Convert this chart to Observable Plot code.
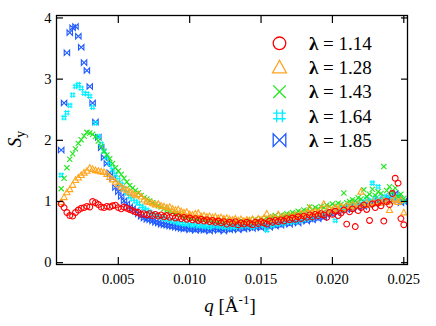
<!DOCTYPE html>
<html><head><meta charset="utf-8">
<script src="https://cdn.jsdelivr.net/npm/d3@7"></script>
<script src="https://cdn.jsdelivr.net/npm/@observablehq/plot@0.6"></script>
<style>html,body{margin:0;padding:0;background:#fff;} #chart{width:436px;height:326px;}</style>
</head><body><div id="chart"></div>
<script>
const q = [
0.0010,0.0012,0.0014,0.0016,0.0018,0.0020,0.0022,0.0024,0.0026,0.0028,
0.0030,0.0032,0.0034,0.0036,0.0038,0.0040,0.0042,0.0044,0.0046,0.0048,
0.0050,0.0052,0.0054,0.0056,0.0058,0.0060,0.0062,0.0064,0.0066,0.0068,
0.0070,0.0072,0.0074,0.0076,0.0078,0.0080,0.0082,0.0084,0.0086,0.0088,
0.0090,0.0092,0.0094,0.0096,0.0098,0.0100,0.0102,0.0104,0.0106,0.0108,
0.0110,0.0112,0.0114,0.0116,0.0118,0.0120,0.0122,0.0124,0.0126,0.0128,
0.0130,0.0132,0.0134,0.0136,0.0138,0.0140,0.0142,0.0144,0.0146,0.0148,
0.0150,0.0152,0.0154,0.0156,0.0158,0.0160,0.0162,0.0164,0.0166,0.0168,
0.0170,0.0172,0.0174,0.0176,0.0178,0.0180,0.0182,0.0184,0.0186,0.0188,
0.0190,0.0192,0.0194,0.0196,0.0198,0.0200,0.0202,0.0204,0.0206,0.0208,
0.0210,0.0212,0.0214,0.0216,0.0218,0.0220,0.0222,0.0224,0.0226,0.0228,
0.0230,0.0232,0.0234,0.0236,0.0238,0.0240,0.0242,0.0244,0.0246,0.0248,
0.0250];

const s114 = [
0.96,0.90,0.82,0.77,0.76,0.82,0.86,0.89,0.90,0.92,
0.91,1.00,0.98,0.95,0.91,0.90,0.92,0.91,0.93,0.94,
0.90,0.88,0.91,0.89,0.87,0.85,0.83,0.82,0.79,0.80,
0.78,0.80,0.77,0.79,0.76,0.78,0.75,0.77,0.74,0.76,
0.73,0.75,0.72,0.74,0.71,0.73,0.70,0.72,0.69,0.71,
0.68,0.70,0.67,0.69,0.66,0.68,0.65,0.67,0.63,0.66,
0.64,0.67,0.62,0.65,0.63,0.66,0.64,0.62,0.66,0.64,
0.67,0.65,0.63,0.68,0.66,0.69,0.67,0.70,0.68,0.72,
0.70,0.73,0.71,0.75,0.72,0.76,0.74,0.78,0.75,0.79,
0.77,0.80,0.78,0.74,0.82,0.79,0.84,0.77,0.81,0.86,
0.63,0.83,0.88,0.59,0.85,0.90,0.94,0.87,0.69,0.96,
0.90,0.98,0.93,0.68,1.00,0.95,1.13,1.38,1.30,0.72,
0.62];

const s128 = [
0.99,1.07,1.15,1.20,1.27,1.35,1.39,1.43,1.47,1.50,
1.55,1.53,1.51,1.50,1.49,1.48,1.45,1.40,1.36,1.32,
1.28,1.24,1.21,1.19,1.16,1.13,1.10,1.12,1.08,1.03,
1.00,0.99,0.97,0.95,0.96,0.93,0.92,0.90,0.91,0.88,
0.86,0.87,0.84,0.82,0.83,0.79,0.78,0.80,0.81,0.76,
0.77,0.75,0.76,0.74,0.75,0.73,0.74,0.72,0.73,0.71,
0.70,0.72,0.69,0.71,0.68,0.70,0.69,0.71,0.68,0.72,
0.70,0.73,0.80,0.71,0.74,0.72,0.79,0.73,0.76,0.74,
0.77,0.75,0.78,0.76,0.80,0.78,0.82,0.89,0.81,0.84,
0.82,0.86,0.96,0.85,0.88,0.86,0.90,0.88,0.92,0.89,
0.93,0.91,0.95,0.92,0.96,1.16,0.94,0.98,0.95,0.99,
0.97,1.00,0.98,1.02,0.99,0.86,1.01,1.04,0.99,1.02,
0.82];

const s143 = [
1.21,1.38,1.55,1.69,1.78,1.86,1.95,2.01,2.07,2.13,
2.12,2.10,2.06,1.99,1.90,1.82,1.76,1.70,1.62,1.55,
1.50,1.44,1.38,1.32,1.26,1.22,1.18,1.14,1.10,1.06,
1.04,1.01,0.98,0.95,0.93,0.91,0.88,0.86,0.84,0.82,
0.81,0.79,0.78,0.76,0.75,0.74,0.73,0.72,0.73,0.71,
0.72,0.70,0.71,0.69,0.70,0.68,0.70,0.67,0.69,0.68,
0.66,0.68,0.67,0.69,0.66,0.68,0.70,0.67,0.71,0.69,
0.72,0.70,0.73,0.71,0.75,0.77,0.74,0.78,0.76,0.80,
0.78,0.82,0.80,0.84,0.82,0.86,0.84,0.91,0.87,0.90,
0.88,0.92,0.90,0.94,0.92,0.96,0.93,0.97,0.95,1.14,
0.98,1.00,1.03,1.01,1.06,1.04,1.19,1.08,1.12,1.20,
1.10,1.16,1.13,1.57,1.18,1.24,1.15,1.22,1.08,1.12,
1.05];

const s164 = [
1.43,2.37,2.45,2.57,2.74,2.88,2.91,2.85,2.77,2.76,
2.72,2.54,2.28,2.06,1.94,1.82,1.72,1.61,1.52,1.44,
1.35,1.28,1.21,1.14,1.08,1.04,1.00,0.97,0.92,0.89,
0.86,0.83,0.80,0.78,0.76,0.74,0.72,0.71,0.69,0.68,
0.67,0.65,0.64,0.63,0.64,0.62,0.61,0.63,0.60,0.61,
0.59,0.61,0.58,0.60,0.62,0.59,0.61,0.58,0.60,0.57,
0.60,0.58,0.61,0.59,0.62,0.60,0.63,0.58,0.61,0.64,
0.62,0.60,0.53,0.63,0.61,0.65,0.63,0.67,0.64,0.68,
0.66,0.70,0.67,0.72,0.69,0.73,0.71,0.75,0.73,0.78,
0.76,0.80,0.78,0.83,0.81,0.85,0.69,0.87,0.90,0.88,
0.92,0.90,0.95,0.93,0.97,1.00,0.96,1.04,1.01,1.30,
1.06,1.24,1.03,1.08,1.05,1.11,1.07,1.02,1.09,1.04,
1.00];

const s185 = [
1.84,2.61,3.43,3.76,3.84,3.86,3.70,3.52,3.27,3.14,
2.88,2.61,2.30,2.05,1.88,1.72,1.62,1.47,1.38,1.23,
1.16,1.08,1.01,0.96,0.91,0.88,0.84,0.80,0.76,0.73,
0.71,0.70,0.68,0.66,0.65,0.63,0.62,0.61,0.60,0.59,
0.58,0.57,0.56,0.55,0.57,0.54,0.55,0.53,0.56,0.54,
0.53,0.55,0.52,0.54,0.56,0.53,0.55,0.52,0.56,0.54,
0.55,0.57,0.54,0.58,0.55,0.57,0.59,0.56,0.58,0.60,
0.57,0.59,0.61,0.58,0.62,0.60,0.63,0.61,0.64,0.66,
0.63,0.66,0.68,0.65,0.69,0.71,0.68,0.72,0.70,0.74,
0.72,0.76,0.74,0.78,0.81,0.79,0.84,0.82,0.86,0.89,
0.87,0.91,0.88,0.93,0.90,0.95,0.92,0.97,0.94,0.99,
0.96,1.01,0.98,1.03,1.00,1.06,1.02,1.13,1.08,0.98,
1.00];

const seriesLabels = ["1.14", "1.28", "1.43", "1.64", "1.85"];
const seriesValues = [s114, s128, s143, s164, s185];
const seriesColors = ["#ff0000", "#ffa51e", "#22e61e", "#00f0ff", "#1e5aff"];
const xTicks = [0.005, 0.010, 0.015, 0.020, 0.025];
const yTicks = [0, 1, 2, 3, 4];

function sym(f) { return {draw(ctx, size) { f(ctx, Math.sqrt(size / Math.PI)); }}; }
const symCircle = sym((c, r) => { c.moveTo(r, 0); c.arc(0, 0, r, 0, 2 * Math.PI); });
const symTri = sym((c, r) => { c.moveTo(0, -r * 1.15); c.lineTo(r * 1.1, r * 0.85); c.lineTo(-r * 1.1, r * 0.85); c.closePath(); });
const symX = sym((c, r) => { c.moveTo(-r, -r); c.lineTo(r, r); c.moveTo(-r, r); c.lineTo(r, -r); });
const symHash = sym((c, r) => { const b = r * 0.45;
  c.moveTo(-b, -r); c.lineTo(-b, r); c.moveTo(b, -r); c.lineTo(b, r);
  c.moveTo(-r, -b); c.lineTo(r, -b); c.moveTo(-r, b); c.lineTo(r, b); });
const symBow = sym((c, r) => { c.moveTo(-r, -r); c.lineTo(-r, r); c.lineTo(r, -r); c.lineTo(r, r); c.closePath(); });
const symbols = [symCircle, symTri, symX, symHash, symBow];
const dotR = [2.9, 2.8, 2.6, 2.8, 2.7];

const tables = seriesValues.map((vals) => q.map((qq, i) => ({q: qq, s: vals[i]})));

const dotMarks = [4, 3, 2, 1, 0].map((k) =>
  Plot.dot(tables[k], {x: "q", y: "s", r: dotR[k], symbol: symbols[k], stroke: seriesColors[k], fill: "none", strokeWidth: 1.1})
);

const FONT = "Liberation Serif";

const svgNode = Plot.plot({
  width: 436, height: 326,
  marginLeft: 56, marginRight: 29, marginTop: 15, marginBottom: 62,
  style: {fontFamily: FONT, fontSize: "14.5px", background: "white", color: "black"},
  x: {domain: [0.00067, 0.02526], label: null},
  y: {domain: [-0.03, 4.04], label: null},
  marks: [
    ...dotMarks,
    Plot.frame({stroke: "black", strokeWidth: 1.3}),
    Plot.axisX(xTicks, {anchor: "bottom", tickSize: 7, dy: -7, tickFormat: () => "", label: null, strokeWidth: 1.2}),
    Plot.axisX(xTicks, {anchor: "top", tickSize: 7, dy: 7, tickFormat: () => "", label: null, strokeWidth: 1.2}),
    Plot.axisY(yTicks, {anchor: "left", tickSize: 7, dx: 7, tickFormat: () => "", label: null, strokeWidth: 1.2}),
    Plot.axisY(yTicks, {anchor: "right", tickSize: 7, dx: -7, tickFormat: () => "", label: null, strokeWidth: 1.2}),
    Plot.axisX(xTicks, {anchor: "bottom", tickSize: 0, tickPadding: 9, tickFormat: d3.format(".3f"), label: null, fontSize: 14.5, fontFamily: FONT}),
    Plot.axisY(yTicks, {anchor: "left", tickSize: 0, tickPadding: 5, tickFormat: (d) => String(d), label: null, fontSize: 14.5, fontFamily: FONT})
  ]
});

const svg = d3.select(svgNode);
svg.attr("font-family", FONT);

// y-axis title
const sy = svg.append("text").attr("transform", "translate(21,139) rotate(-90)")
  .attr("text-anchor", "middle").style("font-family", FONT).style("font-size", "19px").attr("fill", "black");
sy.append("tspan").style("font-style", "italic").text("S");
sy.append("tspan").attr("dy", 4).style("font-size", "14px").text("y");

// x-axis title
const ql = svg.append("text").attr("x", 230).attr("y", 312).attr("text-anchor", "middle")
  .style("font-family", FONT).style("font-size", "19px").attr("fill", "black");
ql.append("tspan").style("font-style", "italic").text("q");
ql.append("tspan").text(" [Å");
ql.append("tspan").attr("dy", -8).style("font-size", "13px").text("-1");
ql.append("tspan").attr("dy", 8).text("]");

// legend
const lg = svg.append("g");
seriesLabels.forEach((lab, i) => {
  const cy = 43.3 + i * 24.2;
  const p = d3.path();
  symbols[i].draw(p, Math.PI * 6.3 * 6.3);
  lg.append("path").attr("transform", `translate(279.5,${cy})`).attr("d", p.toString())
    .attr("fill", "none").attr("stroke", seriesColors[i]).attr("stroke-width", 1.3);
  const t = lg.append("text").attr("x", 309).attr("y", cy + 6.7).attr("text-anchor", "start")
    .style("font-family", FONT).style("font-size", "19px").attr("fill", "black");
  t.append("tspan").style("font-weight", "bold").text("λ");
  t.append("tspan").text(" = " + lab);
});

document.getElementById("chart").appendChild(svgNode);
</script>
</body></html>
